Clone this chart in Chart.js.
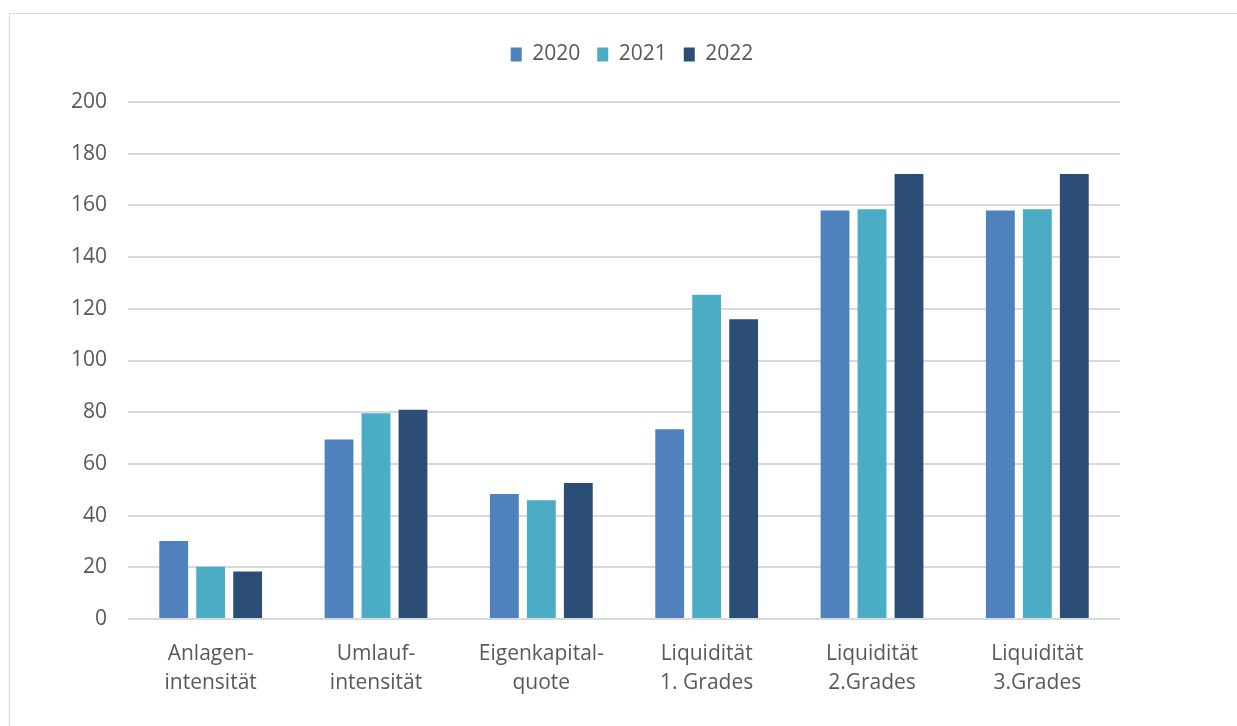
<!DOCTYPE html>
<html>
<head>
<meta charset="utf-8">
<script src="https://cdn.jsdelivr.net/npm/chart.js@4/dist/chart.umd.min.js"></script>
<style>
    body { margin: 0; background: #fff; overflow: hidden; }
    #rahmen { position: absolute; left: 9px; top: 13px; width: 1240px; height: 730px; border: 1px solid #d9d9d9; }
    #grafico { position: absolute; left: 0; top: 0; }
</style>
</head>
<body>
<div id="rahmen"></div>
<canvas id="grafico" width="1237" height="726"></canvas>
<script>
var kategorien = [
    ['Anlagen-', 'intensität'],
    ['Umlauf-', 'intensität'],
    ['Eigenkapital-', 'quote'],
    ['Liquidität', '1. Grades'],
    ['Liquidität', '2.Grades'],
    ['Liquidität', '3.Grades']
];

var werte2020 = [30.2, 69.4, 48.4, 73.4, 158.0, 158.0];
var werte2021 = [20.2, 79.6, 45.9, 125.4, 158.5, 158.5];
var werte2022 = [18.4, 80.9, 52.6, 116.0, 172.1, 172.1];

var yTicks = [0, 20, 40, 60, 80, 100, 120, 140, 160, 180, 200];

var schrift = '"Open Sans", "Noto Sans", sans-serif';
var textFarbe = '#595959';

// legend gets a fixed height so the plot starts at the 200 line
var legendeHoehe = {
    id: 'legendeHoehe',
    beforeInit: function (chart) {
        var fitOriginal = chart.legend.fit;
        chart.legend.fit = function () {
            fitOriginal.bind(chart.legend)();
            this.height = 75;
        };
    }
};

function serie(label, daten, farbe) {
    return {
        label: label,
        data: daten,
        backgroundColor: farbe,
        borderWidth: 0,
        categoryPercentage: 0.671,
        barPercentage: 0.78
    };
}

const ctx = document.getElementById('grafico');

const config = {
    type: 'bar',
    data: {
        labels: kategorien,
        datasets: [
            serie('2020', werte2020, '#4f81bd'),
            serie('2021', werte2021, '#4bacc6'),
            serie('2022', werte2022, '#2c4d75')
        ]
    },
    options: {
        responsive: false,
        animation: false,
        layout: { padding: { left: 27, right: 0, top: 27, bottom: 0 } },
        plugins: {
            tooltip: { enabled: false },
            legend: {
                position: 'top',
                labels: {
                    boxWidth: 11,
                    boxHeight: 14,
                    padding: 17,
                    color: textFarbe,
                    font: { family: schrift, size: 21 }
                }
            }
        },
        scales: {
            x: {
                grid: { display: false },
                border: { display: false },
                ticks: {
                    color: textFarbe,
                    padding: 12,
                    maxRotation: 0,
                    autoSkip: false,
                    font: { family: schrift, size: 21, lineHeight: 1.4 }
                },
                afterFit: function (scale) { scale.height = 107; }
            },
            y: {
                min: 0,
                max: 200,
                afterBuildTicks: function (scale) {
                    scale.ticks = yTicks.map(function (v) { return { value: v }; });
                },
                grid: { color: '#d9d9d9', lineWidth: 2, drawTicks: false },
                border: { display: false },
                ticks: {
                    color: textFarbe,
                    padding: 21,
                    font: { family: schrift, size: 21 }
                },
                afterFit: function (scale) { scale.width = 101; }
            },
            rechts: {
                position: 'right',
                grid: { display: false },
                border: { display: false },
                ticks: { display: false },
                afterFit: function (scale) { scale.width = 117; }
            }
        }
    },
    plugins: [legendeHoehe]
};

var grafico = new Chart(ctx, config);
</script>
</body>
</html>
